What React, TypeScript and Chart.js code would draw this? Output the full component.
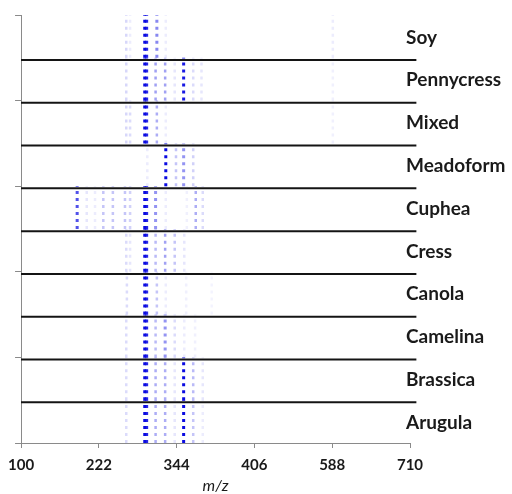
import React, { useEffect, useRef } from "react";
import { Chart, registerables } from "chart.js";

Chart.register(...registerables);

// m/z axis
const X_MIN = 100;
const X_MAX = 710;
const X_STEP = 122;
const SEPARATOR_END = 720;
const tickLabels = ["100", "222", "344", "406", "588", "710"];

// Panels, listed top to bottom
const panelNames = [
  "Soy",
  "Pennycress",
  "Mixed",
  "Meadoform",
  "Cuphea",
  "Cress",
  "Canola",
  "Camelina",
  "Brassica",
  "Arugula",
];

// Peaks per sample: [m/z, relative intensity]
type Peak = [number, number];
const soy: Peak[] = [[265, 0.22], [271, 0.12], [294, 1], [297, 0.9], [313, 0.55], [327, 0.12], [589, 0.12]];
const pennycress: Peak[] = [[265, 0.22], [294, 1], [297, 0.9], [311, 0.45], [326, 0.45], [341, 0.15], [355, 0.95], [370, 0.2], [383, 0.15], [589, 0.1]];
const mixed: Peak[] = [[265, 0.22], [271, 0.2], [294, 1], [297, 0.9], [313, 0.4], [327, 0.12], [589, 0.1]];
const meadoform: Peak[] = [[298, 0.12], [327, 1], [343, 0.3], [355, 0.5], [370, 0.25]];
const cuphea: Peak[] = [[188, 0.75], [203, 0.15], [216, 0.12], [229, 0.3], [244, 0.3], [263, 0.3], [271, 0.25], [294, 1], [297, 0.9], [311, 0.5], [327, 0.12], [360, 0.1], [374, 0.4], [385, 0.2]];
const cress: Peak[] = [[265, 0.2], [271, 0.15], [294, 1], [297, 0.9], [311, 0.35], [326, 0.45], [341, 0.3], [356, 0.15]];
const canola: Peak[] = [[266, 0.2], [294, 1], [297, 0.9], [313, 0.3], [327, 0.12], [359, 0.1], [399, 0.08]];
const camelina: Peak[] = [[265, 0.2], [294, 1], [297, 0.9], [311, 0.35], [326, 0.5], [341, 0.2], [356, 0.12], [373, 0.1]];
const brassica: Peak[] = [[265, 0.2], [294, 1], [297, 0.9], [311, 0.4], [326, 0.4], [341, 0.15], [355, 1], [370, 0.35], [385, 0.15]];
const arugula: Peak[] = [[265, 0.2], [294, 1], [297, 0.9], [311, 0.4], [326, 0.4], [341, 0.15], [355, 1], [370, 0.3], [385, 0.12]];

const spectra: Peak[][] = [soy, pennycress, mixed, meadoform, cuphea, cress, canola, camelina, brassica, arugula];

const AXIS_GRAY = "#8a8a8a";
const TEXT_DARK = "#1a1a1a";

const panelLabels = {
  id: "panelLabels",
  afterDatasetsDraw(chart: Chart) {
    const { ctx, chartArea, scales } = chart;
    const y = scales.y;
    ctx.save();
    ctx.font = "bold 19px Lato";
    ctx.fillStyle = TEXT_DARK;
    ctx.textAlign = "left";
    ctx.textBaseline = "middle";
    panelNames.forEach((name, i) => {
      const base = panelNames.length - 1 - i;
      ctx.fillText(name, chartArea.right - 4, y.getPixelForValue(base + 0.5) + 1);
    });
    ctx.restore();
  },
};

export default function App() {
  const canvasRef = useRef<HTMLCanvasElement | null>(null);

  useEffect(() => {
    if (!canvasRef.current) return;
    const n = panelNames.length;
    const datasets: any[] = [];

    // panel separators
    for (let k = 1; k < n; k++) {
      datasets.push({
        data: [
          { x: X_MIN, y: k - 0.05 },
          { x: SEPARATOR_END, y: k - 0.05 },
        ],
        borderColor: "#141414",
        borderWidth: 2,
        pointRadius: 0,
        clip: false,
      });
    }

    // dotted peak columns, opacity from intensity
    spectra.forEach((peaks, i) => {
      const base = n - 1 - i;
      peaks.forEach(([mz, inten]) => {
        const alpha = Math.pow(inten, 1.2);
        datasets.push({
          data: [
            { x: mz, y: base },
            { x: mz, y: base + 1 },
          ],
          borderColor: `rgba(10, 10, 225, ${alpha.toFixed(3)})`,
          borderWidth: inten >= 0.5 ? 3 : 2.5,
          borderDash: [3, 4],
          borderCapStyle: "butt",
          pointRadius: 0,
        });
      });
    });

    const chart = new Chart(canvasRef.current, {
      type: "line",
      data: { datasets },
      plugins: [panelLabels],
      options: {
        animation: false,
        responsive: false,
        devicePixelRatio: 1,
        layout: { padding: { top: 15, right: 102, left: 0, bottom: 0 } },
        plugins: {
          legend: { display: false },
          tooltip: { enabled: false },
        },
        scales: {
          x: {
            type: "linear",
            min: X_MIN,
            max: X_MAX,
            afterFit: (s: any) => {
              s.height = 51;
            },
            ticks: {
              stepSize: X_STEP,
              autoSkip: false,
              maxRotation: 0,
              padding: 8,
              color: TEXT_DARK,
              font: { family: "Lato", weight: "bold", size: 15 },
              callback: (_v: any, i: number) => tickLabels[i],
            },
            grid: {
              drawOnChartArea: false,
              drawTicks: true,
              tickLength: 5,
              color: AXIS_GRAY,
            },
            border: { color: AXIS_GRAY, width: 1 },
            title: {
              display: true,
              text: "m/z",
              color: TEXT_DARK,
              padding: 0,
              font: { family: "Lato", style: "italic", size: 16, lineHeight: 1 },
            },
          },
          y: {
            type: "linear",
            min: 0,
            max: n,
            afterFit: (s: any) => {
              s.width = 21;
            },
            ticks: {
              stepSize: 2,
              callback: () => "",
            },
            grid: {
              drawOnChartArea: false,
              drawTicks: true,
              tickLength: 6,
              color: AXIS_GRAY,
            },
            border: { color: AXIS_GRAY, width: 1 },
          },
        },
      },
    });
    return () => chart.destroy();
  }, []);

  return (
    <div style={{ position: "absolute", left: 0, top: 0, width: 512, height: 494, background: "#fff" }}>
      <canvas ref={canvasRef} width={512} height={494} />
    </div>
  );
}
